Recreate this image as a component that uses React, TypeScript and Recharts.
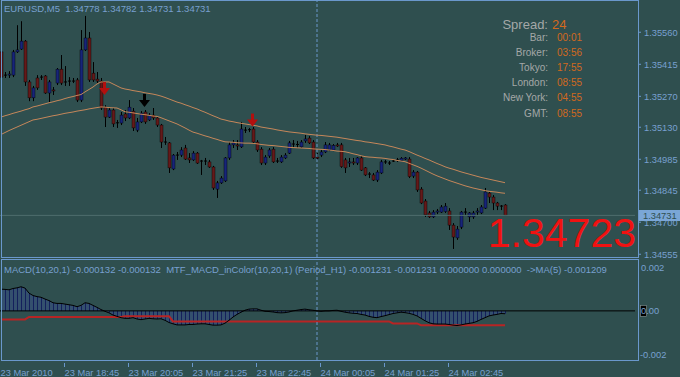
import React from "react";
import { ComposedChart, Bar, Line, Area, XAxis, YAxis, ReferenceLine } from "recharts";

// EURUSD M5, 23 Mar 2010 17:25 .. 24 Mar 03:55 (127 bars)
const opens = [
  1.35471, 1.35366, 1.35366, 1.35366, 1.35471, 1.35484, 1.35520, 1.35335, 1.35263, 1.35353,
  1.35357, 1.35362, 1.35285, 1.35299, 1.35330, 1.35393, 1.35335, 1.35335, 1.35339, 1.35344,
  1.35253, 1.35480, 1.35534, 1.35375, 1.35348, 1.35339, 1.35221, 1.35176, 1.35208, 1.35150,
  1.35149, 1.35190, 1.35172, 1.35203, 1.35117, 1.35154, 1.35199, 1.35163, 1.35185, 1.35172,
  1.35140, 1.35063, 1.35059, 1.34941, 1.35004, 1.35004, 1.35036, 1.34991, 1.34982, 1.35013,
  1.34977, 1.34977, 1.34973, 1.34950, 1.34850, 1.34878, 1.34887, 1.34991, 1.35050, 1.35050,
  1.35041, 1.35113, 1.35117, 1.35122, 1.35063, 1.35031, 1.34968, 1.35000, 1.35031, 1.34977,
  1.34973, 1.34991, 1.35013, 1.35050, 1.35050, 1.35041, 1.35068, 1.35081, 1.35063, 1.34995,
  1.35004, 1.35018, 1.35027, 1.35027, 1.35050, 1.35050, 1.34982, 1.34968, 1.34973, 1.34968,
  1.34991, 1.34946, 1.34918, 1.34914, 1.34891, 1.34923, 1.34973, 1.34968, 1.34977, 1.34982,
  1.34979, 1.34986, 1.34986, 1.34909, 1.34927, 1.34850, 1.34796, 1.34742, 1.34724, 1.34746,
  1.34746, 1.34748, 1.34751, 1.34687, 1.34629, 1.34678, 1.34746, 1.34724, 1.34724, 1.34746,
  1.34742, 1.34764, 1.34832, 1.34814, 1.34787, 1.34773, 1.34778,
];
const highs = [
  1.35489, 1.35380, 1.35384, 1.35480, 1.35592, 1.35610, 1.35525, 1.35344, 1.35317, 1.35366,
  1.35366, 1.35366, 1.35344, 1.35312, 1.35398, 1.35457, 1.35407, 1.35357, 1.35353, 1.35353,
  1.35570, 1.35634, 1.35561, 1.35425, 1.35380, 1.35353, 1.35230, 1.35217, 1.35217, 1.35163,
  1.35199, 1.35208, 1.35253, 1.35217, 1.35172, 1.35203, 1.35208, 1.35194, 1.35217, 1.35176,
  1.35145, 1.35086, 1.35063, 1.35009, 1.35018, 1.35040, 1.35050, 1.35013, 1.35022, 1.35018,
  1.34982, 1.34991, 1.34982, 1.34955, 1.34887, 1.34909, 1.34995, 1.35063, 1.35072, 1.35072,
  1.35154, 1.35131, 1.35127, 1.35131, 1.35072, 1.35040, 1.35004, 1.35036, 1.35040, 1.34991,
  1.35004, 1.35013, 1.35068, 1.35072, 1.35068, 1.35072, 1.35095, 1.35090, 1.35072, 1.35013,
  1.35027, 1.35063, 1.35059, 1.35054, 1.35059, 1.35059, 1.34991, 1.34991, 1.34991, 1.34995,
  1.35000, 1.34950, 1.34927, 1.34923, 1.34936, 1.34982, 1.34982, 1.34977, 1.34986, 1.34991,
  1.34995, 1.34995, 1.34995, 1.34936, 1.34932, 1.34859, 1.34805, 1.34751, 1.34755, 1.34760,
  1.34778, 1.34787, 1.34764, 1.34696, 1.34683, 1.34751, 1.34764, 1.34746, 1.34751, 1.34764,
  1.34778, 1.34855, 1.34837, 1.34823, 1.34792, 1.34778, 1.34782,
];
const lows = [
  1.35353, 1.35353, 1.35353, 1.35357, 1.35466, 1.35480, 1.35317, 1.35248, 1.35248, 1.35299,
  1.35344, 1.35281, 1.35244, 1.35276, 1.35321, 1.35321, 1.35317, 1.35317, 1.35330, 1.35244,
  1.35244, 1.35475, 1.35335, 1.35335, 1.35330, 1.35208, 1.35131, 1.35172, 1.35131, 1.35127,
  1.35140, 1.35158, 1.35167, 1.35113, 1.35108, 1.35149, 1.35145, 1.35158, 1.35163, 1.35131,
  1.35036, 1.35050, 1.34923, 1.34936, 1.34982, 1.34995, 1.34982, 1.34968, 1.34977, 1.34964,
  1.34914, 1.34959, 1.34946, 1.34846, 1.34810, 1.34873, 1.34882, 1.34982, 1.35036, 1.35027,
  1.35036, 1.35104, 1.35108, 1.35059, 1.35018, 1.34959, 1.34959, 1.34991, 1.34968, 1.34968,
  1.34968, 1.34986, 1.35009, 1.35036, 1.35036, 1.35036, 1.35059, 1.35054, 1.34986, 1.34982,
  1.34995, 1.35013, 1.35022, 1.35022, 1.35041, 1.34946, 1.34923, 1.34950, 1.34959, 1.34959,
  1.34932, 1.34909, 1.34900, 1.34887, 1.34882, 1.34918, 1.34964, 1.34959, 1.34973, 1.34973,
  1.34977, 1.34982, 1.34900, 1.34900, 1.34837, 1.34782, 1.34724, 1.34719, 1.34719, 1.34737,
  1.34742, 1.34742, 1.34665, 1.34579, 1.34620, 1.34669, 1.34733, 1.34701, 1.34715, 1.34733,
  1.34737, 1.34760, 1.34787, 1.34755, 1.34755, 1.34755, 1.34731,
];
const closes = [
  1.35357, 1.35362, 1.35371, 1.35471, 1.35480, 1.35520, 1.35335, 1.35263, 1.35308, 1.35308,
  1.35355, 1.35285, 1.35335, 1.35294, 1.35393, 1.35330, 1.35333, 1.35339, 1.35335, 1.35253,
  1.35480, 1.35534, 1.35344, 1.35344, 1.35339, 1.35217, 1.35176, 1.35208, 1.35145, 1.35146,
  1.35185, 1.35172, 1.35221, 1.35127, 1.35154, 1.35194, 1.35154, 1.35185, 1.35172, 1.35140,
  1.35063, 1.35059, 1.34946, 1.35004, 1.35000, 1.35027, 1.34986, 1.34982, 1.35013, 1.34968,
  1.34973, 1.34975, 1.34950, 1.34855, 1.34878, 1.34900, 1.34991, 1.35050, 1.35059, 1.35045,
  1.35122, 1.35117, 1.35119, 1.35063, 1.35027, 1.34968, 1.34995, 1.35027, 1.34973, 1.34975,
  1.34995, 1.35004, 1.35059, 1.35054, 1.35052, 1.35063, 1.35077, 1.35059, 1.34991, 1.34990,
  1.35018, 1.35050, 1.35050, 1.35048, 1.35045, 1.34951, 1.34946, 1.34973, 1.34968, 1.34991,
  1.34936, 1.34914, 1.34914, 1.34891, 1.34927, 1.34973, 1.34970, 1.34966, 1.34975, 1.34980,
  1.34990, 1.34991, 1.34906, 1.34927, 1.34846, 1.34787, 1.34733, 1.34724, 1.34746, 1.34751,
  1.34769, 1.34773, 1.34687, 1.34633, 1.34669, 1.34746, 1.34742, 1.34742, 1.34742, 1.34751,
  1.34769, 1.34837, 1.34814, 1.34787, 1.34773, 1.34771, 1.34731,
];
const maUpper = [
  1.35176, 1.35182, 1.35187, 1.35193, 1.35198, 1.35203, 1.35209, 1.35214, 1.35222, 1.35226,
  1.35231, 1.35236, 1.35241, 1.35245, 1.35250, 1.35254, 1.35260, 1.35265, 1.35269, 1.35274,
  1.35278, 1.35290, 1.35301, 1.35312, 1.35326, 1.35335, 1.35335, 1.35335, 1.35326, 1.35317,
  1.35308, 1.35303, 1.35300, 1.35296, 1.35293, 1.35290, 1.35286, 1.35283, 1.35280, 1.35276,
  1.35271, 1.35265, 1.35258, 1.35251, 1.35244, 1.35239, 1.35232, 1.35226, 1.35219, 1.35213,
  1.35205, 1.35198, 1.35190, 1.35182, 1.35175, 1.35167, 1.35163, 1.35158, 1.35155, 1.35151,
  1.35148, 1.35145, 1.35142, 1.35139, 1.35136, 1.35131, 1.35128, 1.35125, 1.35122, 1.35118,
  1.35115, 1.35112, 1.35109, 1.35107, 1.35105, 1.35103, 1.35100, 1.35098, 1.35096, 1.35094,
  1.35093, 1.35091, 1.35089, 1.35087, 1.35085, 1.35082, 1.35079, 1.35076, 1.35073, 1.35070,
  1.35068, 1.35064, 1.35062, 1.35059, 1.35056, 1.35053, 1.35050, 1.35045, 1.35041, 1.35036,
  1.35031, 1.35027, 1.35020, 1.35012, 1.35004, 1.34997, 1.34989, 1.34982, 1.34974, 1.34966,
  1.34959, 1.34951, 1.34945, 1.34940, 1.34934, 1.34928, 1.34923, 1.34918, 1.34913, 1.34908,
  1.34903, 1.34899, 1.34895, 1.34891, 1.34887, 1.34883, 1.34879,
];
const maLower = [
  1.35097, 1.35106, 1.35115, 1.35123, 1.35131, 1.35139, 1.35147, 1.35155, 1.35163, 1.35166,
  1.35170, 1.35174, 1.35178, 1.35182, 1.35185, 1.35189, 1.35193, 1.35196, 1.35199, 1.35203,
  1.35206, 1.35209, 1.35213, 1.35216, 1.35219, 1.35222, 1.35221, 1.35219, 1.35218, 1.35217,
  1.35209, 1.35200, 1.35198, 1.35195, 1.35192, 1.35189, 1.35187, 1.35184, 1.35181, 1.35179,
  1.35173, 1.35166, 1.35159, 1.35152, 1.35145, 1.35136, 1.35127, 1.35117, 1.35108, 1.35103,
  1.35097, 1.35091, 1.35086, 1.35080, 1.35075, 1.35069, 1.35064, 1.35063, 1.35062, 1.35060,
  1.35059, 1.35058, 1.35058, 1.35057, 1.35055, 1.35052, 1.35050, 1.35048, 1.35047, 1.35045,
  1.35043, 1.35041, 1.35039, 1.35038, 1.35037, 1.35036, 1.35035, 1.35034, 1.35032, 1.35031,
  1.35030, 1.35029, 1.35027, 1.35025, 1.35022, 1.35021, 1.35019, 1.35015, 1.35010, 1.35006,
  1.35001, 1.34997, 1.34995, 1.34994, 1.34992, 1.34991, 1.34989, 1.34986, 1.34984, 1.34980,
  1.34977, 1.34974, 1.34967, 1.34960, 1.34953, 1.34945, 1.34936, 1.34927, 1.34918, 1.34910,
  1.34903, 1.34896, 1.34889, 1.34883, 1.34877, 1.34871, 1.34865, 1.34860, 1.34855, 1.34851,
  1.34847, 1.34843, 1.34840, 1.34838, 1.34836, 1.34833, 1.34831,
];
const macdValues = [
  0.00099, 0.00098, 0.00096, 0.00102, 0.00105, 0.0011, 0.00104, 0.00081, 0.0007, 0.00065,
  0.00062, 0.00054, 0.00047, 0.00037, 0.00034, 0.00034, 0.00031, 0.00028, 0.00025, 0.00019,
  0.00025, 0.00037, 0.00034, 0.00025, 0.00016, 0.00006, -0.00002, -0.00009, -0.00019, -0.00025,
  -0.00031, -0.00034, -0.00034, -0.00031, -0.00037, -0.0004, -0.00037, -0.00034, -0.00036, -0.00037,
  -0.00036, -0.00043, -0.00053, -0.00059, -0.00064, -0.00064, -0.00064, -0.00062, -0.00062, -0.0006,
  -0.00059, -0.00059, -0.00062, -0.00065, -0.00065, -0.00064, -0.00056, -0.00043, -0.00028, -0.00016,
  -0.00006, 0.00003, 0.00008, 0.00009, 0.00009, 0.00003, -0.00002, -0.00003, -0.00005, -0.00008,
  -0.00009, -0.00008, -0.00005, 0, 0.00003, 0.00006, 0.00008, 0.00005, 0.00003, 0,
  -0.00002, 0, 0, 0.00002, 0.00003, -0.00002, -0.00006, -0.00009, -0.00011, -0.00012,
  -0.00016, -0.00019, -0.00025, -0.00029, -0.00031, -0.00026, -0.00022, -0.00017, -0.00012, -0.00009,
  -0.00006, -0.00008, -0.00011, -0.00016, -0.00023, -0.00034, -0.00045, -0.00054, -0.00059, -0.0006,
  -0.0006, -0.0006, -0.00062, -0.00065, -0.00067, -0.00064, -0.0006, -0.00057, -0.00054, -0.00048,
  -0.00039, -0.00031, -0.00023, -0.00019, -0.00016, -0.00012, -0.00013,
];
// H1 MTF line, stepped
const mtfValues = [
  -0.00039, -0.00039, -0.00039, -0.00039, -0.00039, -0.00039, -0.00039, -0.00028, -0.00028, -0.00028,
  -0.00028, -0.00028, -0.00028, -0.00028, -0.00028, -0.00028, -0.00028, -0.00028, -0.00028, -0.00028,
  -0.00028, -0.00028, -0.00028, -0.00028, -0.00028, -0.00028, -0.00028, -0.00028, -0.00028, -0.00028,
  -0.00028, -0.00024, -0.00024, -0.00024, -0.00024, -0.00024, -0.00024, -0.00024, -0.00024, -0.00024,
  -0.00024, -0.00024, -0.00024, -0.00048, -0.00048, -0.00048, -0.00048, -0.00048, -0.00048, -0.00048,
  -0.00048, -0.00048, -0.00048, -0.00048, -0.00048, -0.00048, -0.00048, -0.00048, -0.00048, -0.00048,
  -0.00048, -0.00048, -0.00048, -0.00048, -0.00048, -0.00048, -0.00048, -0.00048, -0.00048, -0.00048,
  -0.00048, -0.00048, -0.00048, -0.00048, -0.00048, -0.00048, -0.00048, -0.00048, -0.00048, -0.00048,
  -0.00048, -0.00048, -0.00048, -0.00048, -0.00048, -0.00048, -0.00048, -0.00048, -0.00048, -0.00048,
  -0.00048, -0.00048, -0.00048, -0.00048, -0.00048, -0.00048, -0.00048, -0.00048, -0.00057, -0.00057,
  -0.00057, -0.00057, -0.00057, -0.00057, -0.00057, -0.00065, -0.00065, -0.00065, -0.00065, -0.00065,
  -0.00065, -0.00065, -0.00065, -0.00065, -0.00065, -0.00065, -0.00065, -0.00065, -0.00065, -0.00065,
  -0.00065, -0.00065, -0.00065, -0.00065, -0.00065, -0.00065, -0.00065,
];
const redArrows = [{ bar: 26, price: 1.35276 }, { bar: 63, price: 1.35133 }];
const blackArrows = [{ bar: 36, price: 1.35222 }];

const priceTicks = [1.3556, 1.35415, 1.3527, 1.3513, 1.34985, 1.34845, 1.347, 1.34555];
const macdTicks = [0.002, 0, -0.002];
const timeTickBars = [0, 16, 32, 48, 64, 80, 96, 112];
const timeTickLabels = [
  "23 Mar 2010", "23 Mar 18:45", "23 Mar 20:05", "23 Mar 21:25",
  "23 Mar 22:45", "24 Mar 00:05", "24 Mar 01:25", "24 Mar 02:45",
];
const dayBreakBar = 79;
const SLOTS = 159; // bars + right-side shift

const BG = "#2f4f4f";
const FRAME = "#6a98cc";
const TXT = "#78a0d0";
const FONT = "'Liberation Sans', Arial, sans-serif";

const rows = Array.from({ length: SLOTS }, (_, i) => {
  const r: any = { i };
  if (i < opens.length) {
    r.o = opens[i]; r.h = highs[i]; r.l = lows[i]; r.c = closes[i];
    r.maUp = maUpper[i]; r.maLo = maLower[i];
    r.macd = macdValues[i]; r.mtf = mtfValues[i];
  }
  const ra = redArrows.find((a) => a.bar === i);
  if (ra) r.arrowRed = ra.price;
  const ba = blackArrows.find((a) => a.bar === i);
  if (ba) r.arrowBlack = ba.price;
  return r;
});

function Candle(props: any) {
  const { x, y, width, height, payload } = props;
  if (payload == null || payload.o == null) return <g />;
  const top = Math.min(y, y + height);
  const h = Math.abs(height);
  const range = payload.h - payload.l;
  const k = range > 0 ? h / range : 0;
  const yO = top + (payload.h - payload.o) * k;
  const yC = top + (payload.h - payload.c) * k;
  const cx = Math.round(x + width / 2) - 0.5;
  const up = payload.c >= payload.o;
  const bTop = Math.min(yO, yC);
  const bH = Math.abs(yO - yC);
  return (
    <g>
      <line x1={cx} x2={cx} y1={top} y2={top + Math.max(h, 1)} stroke="#000" strokeWidth={1} />
      {bH < 1 ? (
        <line x1={cx - 1.5} x2={cx + 1.5} y1={bTop} y2={bTop} stroke="#000" strokeWidth={1} />
      ) : (
        <rect x={cx - 1.5} y={bTop} width={3} height={bH} fill={up ? "#17257a" : "#641a1a"} stroke="#000" strokeWidth={0.4} />
      )}
    </g>
  );
}

function HistBar(props: any) {
  const { x, y, width, height } = props;
  if (height == null || isNaN(y)) return <g />;
  const top = Math.min(y, y + height);
  const cx = Math.round(x + width / 2) - 1;
  return <rect x={cx} y={top} width={1} height={Math.abs(height)} fill="#14205c" />;
}

function ArrowDot(props: any) {
  const { cx, cy, value, color } = props;
  if (value == null || cx == null || cy == null || isNaN(cy)) return <g />;
  const x = Math.round(cx) - 0.5;
  return (
    <g>
      <rect x={x - 1.5} y={cy - 13} width={3} height={7} fill={color} />
      <path d={`M${x - 5.5},${cy - 7} L${x + 5.5},${cy - 7} L${x},${cy} Z`} fill={color} />
    </g>
  );
}

function PriceTick(props: any) {
  const { y, payload } = props;
  return (
    <g>
      <line x1={639} x2={642} y1={y} y2={y} stroke={FRAME} />
      <text x={645} y={y + 3.5} fill={TXT} fontSize={9.3} fontFamily={FONT}>
        {Number(payload.value).toFixed(5)}
      </text>
    </g>
  );
}

function MacdTick(props: any) {
  const { y, payload } = props;
  const v = Number(payload.value);
  const label = v === 0 ? "0.00" : v.toFixed(3);
  return (
    <g>
      {v === 0 && <rect x={641.5} y={y - 5.5} width={6} height={11} fill="#000" stroke="#8a9a9a" strokeWidth={0.6} />}
      <text x={v < 0 ? 641 : 642} y={y + 3.5} fill={TXT} fontSize={9.3} fontFamily={FONT}>
        {label}
      </text>
    </g>
  );
}

function TimeTick(props: any) {
  const { x, y, payload } = props;
  const idx = timeTickBars.indexOf(payload.value);
  if (idx < 0) return <g />;
  const tx = Math.round(x) - 0.5;
  return (
    <g>
      {idx > 0 && <line x1={tx} x2={tx} y1={y + 1} y2={y + 5} stroke={FRAME} />}
      <text x={tx} y={y + 14} fill={TXT} fontSize={9.3} fontFamily={FONT}>
        {timeTickLabels[idx]}
      </text>
    </g>
  );
}

const last = opens.length - 1;
const headerMain = `EURUSD,M5\u00a0\u00a0${opens[last].toFixed(5)} ${highs[last].toFixed(5)} ${lows[last].toFixed(5)} ${closes[last].toFixed(5)}`;
const headerMacd = "MACD(10,20,1) -0.000132 -0.000132\u00a0\u00a0MTF_MACD_inColor(10,20,1) (Period_H1) -0.001231 -0.001231 0.000000 0.000000\u00a0\u00a0->MA(5) -0.001209";
const infoRows = [
  ["Bar:", "00:01"], ["Broker:", "03:56"], ["Tokyo:", "17:55"],
  ["London:", "08:55"], ["New York:", "04:55"], ["GMT:", "08:55"],
];

export default function App() {
  return (
    <div style={{ position: "absolute", left: 0, top: 0, width: 680, height: 377, background: BG, overflow: "hidden" }}>
      <div style={{ position: "absolute", left: -1, top: 0 }}>
        <ComposedChart width={681} height={259} data={rows} margin={{ top: 1, right: 0, bottom: 2, left: 0 }}>
          <XAxis dataKey="i" hide />
          <YAxis orientation="right" width={45} type="number" domain={[1.345426, 1.357015]} allowDataOverflow
            ticks={priceTicks} interval={0} tick={<PriceTick />} axisLine={false} tickLine={false} />
          <ReferenceLine x={dayBreakBar} stroke={FRAME} strokeDasharray="3 2" />
          <ReferenceLine y={closes[last]} stroke="#4f6e6e" />
          <Line dataKey="maUp" stroke="#c5875a" strokeWidth={1} dot={false} activeDot={false} isAnimationActive={false} />
          <Line dataKey="maLo" stroke="#c5875a" strokeWidth={1} dot={false} activeDot={false} isAnimationActive={false} />
          <Bar dataKey={(d: any) => (d.l == null ? null : [d.l, d.h])} barSize={3} shape={<Candle />} isAnimationActive={false} />
          <Line dataKey="arrowRed" stroke="none" dot={<ArrowDot color="#b3100f" />} activeDot={false} isAnimationActive={false} />
          <Line dataKey="arrowBlack" stroke="none" dot={<ArrowDot color="#000" />} activeDot={false} isAnimationActive={false} />
        </ComposedChart>
      </div>
      <div style={{ position: "absolute", left: -1, top: 259 }}>
        <ComposedChart width={681} height={118} data={rows} margin={{ top: 1, right: 0, bottom: 0, left: 0 }}>
          <XAxis dataKey="i" ticks={timeTickBars} interval={0} tick={<TimeTick />} axisLine={false} tickLine={false} tickSize={0} height={17} />
          <YAxis orientation="right" width={45} type="number" domain={[-0.00224, 0.00232]} allowDataOverflow
            ticks={macdTicks} interval={0} tick={<MacdTick />} axisLine={false} tickLine={false} />
          <Area dataKey="macd" type="linear" baseValue={0} fill="#34506e" fillOpacity={1} stroke="none" dot={false} activeDot={false} isAnimationActive={false} />
          <Bar dataKey="macd" barSize={1} shape={<HistBar />} isAnimationActive={false} />
          <ReferenceLine y={0} stroke="#000" />
          <Line dataKey="mtf" stroke="#b82424" strokeWidth={2} dot={false} activeDot={false} isAnimationActive={false} />
          <Line dataKey="macd" stroke="#000" strokeWidth={1} dot={false} activeDot={false} isAnimationActive={false} />
          <ReferenceLine x={dayBreakBar} stroke={FRAME} strokeDasharray="3 2" />
        </ComposedChart>
      </div>
      <svg width={680} height={377} style={{ position: "absolute", left: 0, top: 0, pointerEvents: "none" }} fontFamily={FONT}>
        <rect x={1.5} y={0.5} width={637} height={257} fill="none" stroke={FRAME} />
        <rect x={1.5} y={259.5} width={637} height={101} fill="none" stroke={FRAME} />
        <text x={4} y={12} fontSize={9.5} fill={TXT}>{headerMain}</text>
        <text x={4} y={273} fontSize={9.5} fill={TXT}>{headerMacd}</text>
        <text x={548} y={29} fontSize={13} fill="#a4a8a8" textAnchor="end">Spread:</text>
        <text x={552} y={29} fontSize={13} fill="#d2691e">24</text>
        {infoRows.map(([k, v], j) => (
          <g key={k}>
            <text x={548} y={41 + j * 15.1} fontSize={10} fill="#a4a8a8" textAnchor="end">{k}</text>
            <text x={557} y={41 + j * 15.1} fontSize={10} fill="#d2691e">{v}</text>
          </g>
        ))}
        <text x={636} y={247} fontSize={41} fill="#f01212" textAnchor="end">1.34723</text>
        <rect x={639} y={210} width={41} height={11} fill="#7aa6d6" />
        <text x={643} y={219} fontSize={9.3} fill={BG}>{closes[last].toFixed(5)}</text>
      </svg>
    </div>
  );
}
